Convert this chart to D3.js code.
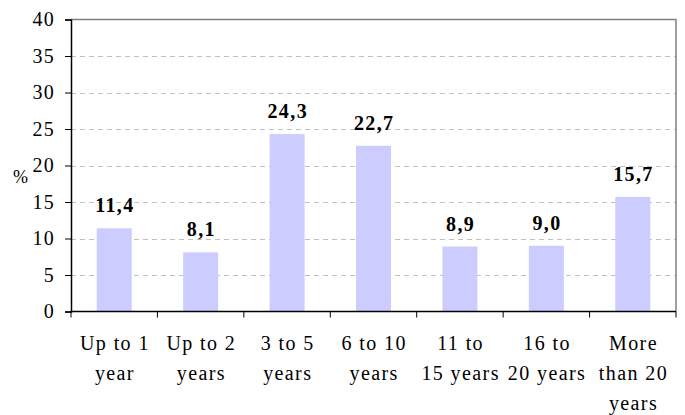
<!DOCTYPE html>
<html>
<head>
<meta charset="utf-8">
<script src="https://cdn.jsdelivr.net/npm/d3@7"></script>
<style>
  body { margin: 0; background: #fff; }
</style>
</head>
<body>
<div id="chart"></div>
<script>
const categories = [
  ['Up to 1', 'year'],
  ['Up to 2', 'years'],
  ['3 to 5', 'years'],
  ['6 to 10', 'years'],
  ['11 to', '15 years'],
  ['16 to', '20 years'],
  ['More', 'than 20', 'years']
];
const values = [11.4, 8.1, 24.3, 22.7, 8.9, 9.0, 15.7];
const yTicks = [0, 5, 10, 15, 20, 25, 30, 35, 40];

const width = 685, height = 415;
const plot = { left: 71, right: 676, top: 19.5, bottom: 311.5 };
const serif = "'Liberation Serif', 'Times New Roman', Times, serif";

const svg = d3.select('#chart')
  .append('svg')
  .attr('width', width)
  .attr('height', height)
  .attr('font-family', serif);

const x = d3.scaleBand()
  .domain(d3.range(categories.length))
  .range([plot.left, plot.right])
  .paddingInner(0.595)
  .paddingOuter(0.2975);

const y = d3.scaleLinear()
  .domain([0, 40])
  .range([plot.bottom, plot.top]);

// grid
svg.append('g')
  .selectAll('line')
  .data(yTicks.filter(d => d > 0 && d < 40))
  .enter()
  .append('line')
  .attr('x1', plot.left)
  .attr('x2', plot.right)
  .attr('y1', d => Math.round(y(d)) + 0.5)
  .attr('y2', d => Math.round(y(d)) + 0.5)
  .attr('stroke', '#c0c0c0')
  .attr('stroke-dasharray', '5,4');

// plot border top/right
svg.append('path')
  .attr('d', `M${plot.left},${plot.top}H${plot.right}V${plot.bottom}`)
  .attr('fill', 'none')
  .attr('stroke', '#808080')
  .attr('stroke-width', 1.5);

// bars
svg.append('g')
  .selectAll('rect')
  .data(values)
  .enter()
  .append('rect')
  .attr('x', (d, i) => x(i))
  .attr('width', x.bandwidth())
  .attr('y', d => y(d))
  .attr('height', d => y(0) - y(d))
  .attr('fill', '#ccccff');

// value labels
svg.append('g')
  .selectAll('text')
  .data(values)
  .enter()
  .append('text')
  .attr('x', (d, i) => x(i) + x.bandwidth() / 2 + 0.7)
  .attr('y', d => y(d) - 16)
  .attr('text-anchor', 'middle')
  .attr('font-family', serif)
  .attr('font-size', 20)
  .attr('font-weight', 'bold')
  .attr('letter-spacing', 1.4)
  .text(d => d.toFixed(1).replace('.', ','));

// y axis
const yAxis = svg.append('g')
  .attr('transform', `translate(${plot.left},0)`)
  .call(d3.axisLeft(y).tickValues(yTicks).tickSize(6).tickPadding(10));
yAxis.attr('font-family', serif).attr('font-size', 20);
yAxis.select('.domain').attr('stroke', '#000').attr('stroke-width', 1.5);
yAxis.selectAll('.tick line').attr('stroke', '#000');
yAxis.selectAll('.tick text').attr('fill', '#000').attr('letter-spacing', 1.2);

svg.append('text')
  .attr('x', 13)
  .attr('y', 183)
  .attr('font-family', serif)
  .attr('font-size', 18)
  .text('%');

// x axis
const step = x.step();
const bounds = d3.range(categories.length + 1).map(i => plot.left + i * step);
svg.append('line')
  .attr('x1', plot.left)
  .attr('x2', plot.right)
  .attr('y1', plot.bottom)
  .attr('y2', plot.bottom)
  .attr('stroke', '#000')
  .attr('stroke-width', 1.5);
svg.append('g')
  .selectAll('line')
  .data(bounds)
  .enter()
  .append('line')
  .attr('x1', d => d)
  .attr('x2', d => d)
  .attr('y1', plot.bottom)
  .attr('y2', plot.bottom + 6)
  .attr('stroke', '#000');

const labels = svg.append('g')
  .selectAll('text')
  .data(categories)
  .enter()
  .append('text')
  .attr('x', (d, i) => x(i) + x.bandwidth() / 2 + 0.7)
  .attr('y', 350)
  .attr('text-anchor', 'middle')
  .attr('font-family', serif)
  .attr('font-size', 20)
  .attr('letter-spacing', 1.4);
labels.selectAll('tspan')
  .data(d => d)
  .enter()
  .append('tspan')
  .attr('x', function () { return d3.select(this.parentNode).attr('x'); })
  .attr('dy', (d, i) => i === 0 ? 0 : 30)
  .text(d => d);
</script>
</body>
</html>
